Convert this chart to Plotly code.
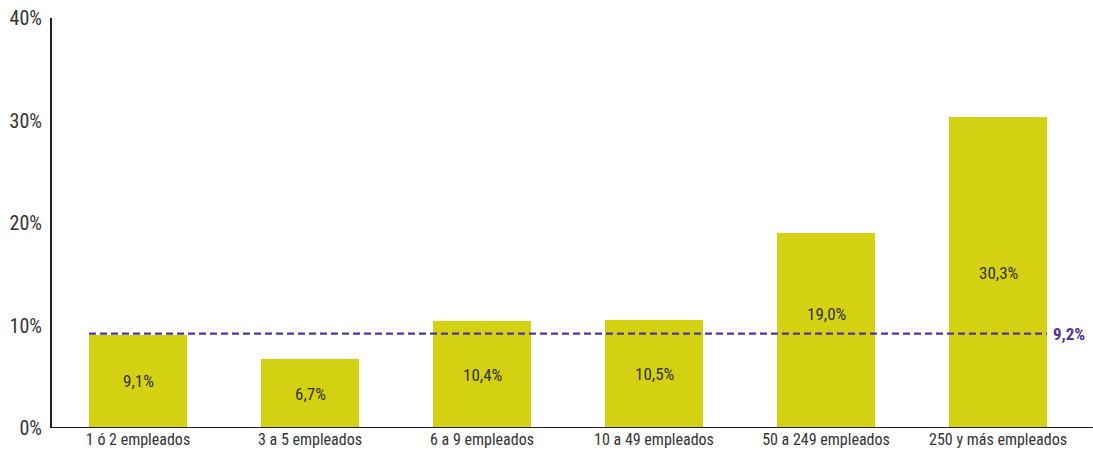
import plotly.graph_objects as go

categories = ["1 ó 2 empleados", "3 a 5 empleados", "6 a 9 empleados",
              "10 a 49 empleados", "50 a 249 empleados", "250 y más empleados"]
values = [9.1, 6.7, 10.4, 10.5, 19.0, 30.3]
value_labels = ["9,1%", "6,7%", "10,4%", "10,5%", "19,0%", "30,3%"]
average = 9.2
average_label = "9,2%"
y_ticks = [0, 10, 20, 30, 40]
y_tick_labels = ["0%", "10%", "20%", "30%", "40%"]

FONT = "Roboto Condensed, Liberation Sans Narrow, Arial Narrow, sans-serif"
BAR_COLOR = "#d4d012"
LINE_COLOR = "#50369a"
AXIS_COLOR = "#231f20"
TEXT_COLOR = "#333333"
bar_width = 0.57

x_idx = list(range(len(categories)))

fig = go.Figure()
fig.add_trace(go.Bar(
    x=x_idx, y=values, width=bar_width,
    marker=dict(color=BAR_COLOR, line=dict(width=0)),
    hoverinfo="skip",
))

# value labels centred in bars, nudged above the average line if they'd collide
for xi, v, lab in zip(x_idx, values, value_labels):
    mid = v / 2
    shift = 17 if abs(mid - average) < 1.0 else 0
    fig.add_annotation(x=xi, y=mid, xref="x", yref="y", text=lab, showarrow=False,
                       yshift=shift,
                       font=dict(family=FONT, size=17, color=TEXT_COLOR))

fig.add_shape(type="line", xref="x", yref="y",
              x0=x_idx[0] - bar_width / 2, x1=x_idx[-1] + bar_width / 2,
              y0=average, y1=average,
              line=dict(color=LINE_COLOR, width=2.2, dash="7px,4px"))
fig.add_annotation(x=x_idx[-1] + bar_width / 2, y=average, xref="x", yref="y",
                   text="<b>" + average_label + "</b>", showarrow=False,
                   xanchor="left", xshift=4,
                   font=dict(family=FONT, size=17, color=LINE_COLOR))
# bottom axis line extending to the right edge
fig.add_shape(type="line", xref="paper", yref="y", x0=0, x1=1.0087, y0=0, y1=0,
              line=dict(color=AXIS_COLOR, width=2), layer="above")

fig.update_layout(
    width=1093, height=463,
    margin=dict(l=52, r=9, t=18, b=35, autoexpand=False),
    paper_bgcolor="white", plot_bgcolor="white",
    showlegend=False,
    bargap=0,
    font=dict(family=FONT, color=TEXT_COLOR),
    xaxis=dict(
        tickmode="array", tickvals=x_idx, ticktext=categories,
        range=[-0.5, len(categories) - 0.5], automargin=False,
        showline=False, showgrid=False, zeroline=False, ticks="",
        tickfont=dict(family=FONT, size=16, color=TEXT_COLOR),
    ),
    yaxis=dict(
        range=[0, 40.001], tickmode="array", tickvals=y_ticks, ticktext=y_tick_labels,
        showline=True, linecolor=AXIS_COLOR, linewidth=2, automargin=False,
        showgrid=False, zeroline=False, ticks="",
        ticklabelstandoff=4,
        tickfont=dict(family=FONT, size=20, color=TEXT_COLOR),
    ),
)

fig.write_html("out.html",
               config={"displayModeBar": False},
               post_script="document.body.style.margin='0';document.body.style.overflow='hidden';")
